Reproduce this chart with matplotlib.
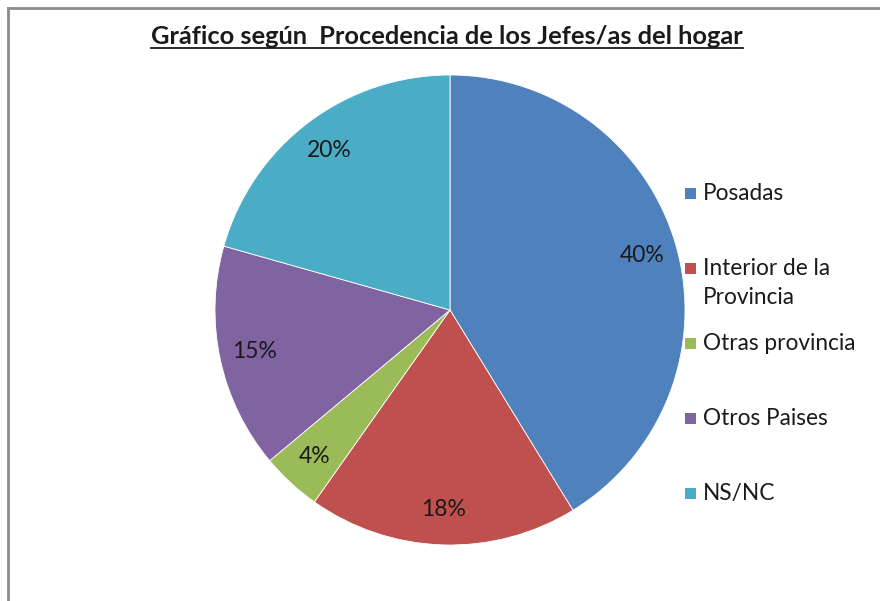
import matplotlib
matplotlib.use("Agg")
import matplotlib.pyplot as plt
from matplotlib.patches import Rectangle
from matplotlib.lines import Line2D

plt.rcParams['font.family'] = ['Lato', 'DejaVu Sans']

# data
categories = ['Posadas', 'Interior de la\nProvincia', 'Otras provincia', 'Otros Paises', 'NS/NC']
values = [40, 18, 4, 15, 20]
pct_labels = ['40%', '18%', '4%', '15%', '20%']
colors = ['#4F81BD', '#C0504D', '#9BBB59', '#8064A2', '#4BACC6']
title = 'Gráfico según  Procedencia de los Jefes/as del hogar'

W, H = 880, 601
fig = plt.figure(figsize=(W / 100, H / 100), dpi=100)
fig.patch.set_facecolor('white')

# pie axes: center ~ (450, 310) px, radius ~235 px
ax = fig.add_axes([215 / W, (H - 545) / H, 470 / W, 470 / H])
lab_iter = iter(pct_labels)
wedges, texts, autotexts = ax.pie(values, colors=colors, startangle=90, counterclock=False,
                                  autopct=lambda p: next(lab_iter), pctdistance=0.85,
                                  wedgeprops=dict(edgecolor='white', linewidth=0.6))
for t in autotexts:
    t.set_fontsize(16.5)
    t.set_color('#1a1a1a')
ax.set_xlim(-1, 1)
ax.set_ylim(-1, 1)
ax.set_aspect('equal')

# title with underline
tt = fig.text(447 / W, 1 - 37 / H, title, ha='center', va='center', fontsize=18.3,
              fontweight='bold', color='#1a1a1a')
fig.canvas.draw()
bb = tt.get_window_extent()
uy = (bb.y0 + 1) / H
fig.add_artist(Line2D([bb.x0 / W, bb.x1 / W], [uy, uy], color='#1a1a1a', lw=1.3))

# legend drawn by hand (one slot per entry, Excel style)
for i, (lab, col) in enumerate(zip(categories, colors)):
    ytop = 183 + 75 * i
    fig.add_artist(Rectangle((685 / W, 1 - (ytop + 16) / H), 11 / W, 11 / H,
                             facecolor=col, edgecolor='none', transform=fig.transFigure))
    fig.text(703 / W, 1 - ytop / H, lab, ha='left', va='top', fontsize=16.3,
             color='#1a1a1a', linespacing=1.45)

# chart border (top and left visible)
fig.add_artist(Line2D([8 / W, 1], [1 - 8 / H, 1 - 8 / H], color='#8c8c8c', lw=2))
fig.add_artist(Line2D([8 / W, 8 / W], [0, 1 - 8 / H], color='#8c8c8c', lw=2))

fig.savefig('out.png', dpi=100)
